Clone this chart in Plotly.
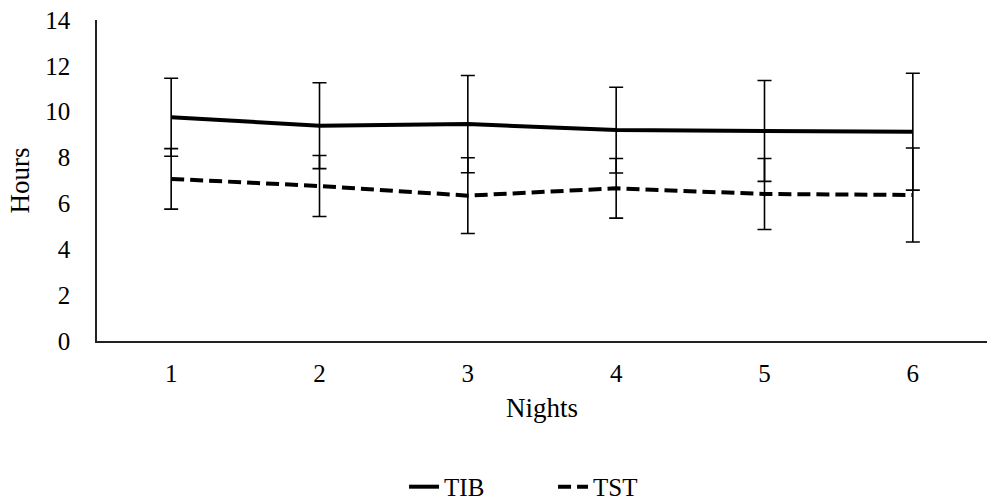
import plotly.graph_objects as go

nights = ["1", "2", "3", "4", "5", "6"]
tib = [9.76, 9.39, 9.46, 9.20, 9.16, 9.13]
tib_err = [1.70, 1.87, 2.12, 1.87, 2.20, 2.55]
tst = [7.07, 6.76, 6.34, 6.66, 6.41, 6.37]
tst_err = [1.32, 1.33, 1.65, 1.30, 1.55, 2.05]

font_family = "Liberation Serif"

fig = go.Figure()
fig.add_trace(go.Scatter(
    x=nights, y=tib, mode="lines", name="TIB",
    line=dict(color="black", width=4),
    error_y=dict(type="data", array=tib_err, visible=True,
                 color="black", thickness=1.6, width=7),
))
fig.add_trace(go.Scatter(
    x=nights, y=tst, mode="lines", name="TST",
    line=dict(color="black", width=4, dash="13px,6px"),
    error_y=dict(type="data", array=tst_err, visible=True,
                 color="black", thickness=1.6, width=7),
))

fig.update_layout(
    width=987, height=502,
    margin=dict(l=97, r=0, t=20, b=161, autoexpand=False),
    plot_bgcolor="white", paper_bgcolor="white",
    font=dict(family=font_family, size=25, color="black"),
    showlegend=True,
    legend=dict(orientation="h", x=0.345, xanchor="left",
                yref="container", y=0.03, yanchor="middle",
                font=dict(family=font_family, size=25),
                entrywidth=104, entrywidthmode="pixels"),
    xaxis=dict(
        type="category",
        range=[-0.5, 5.5],
        showline=True, linecolor="#222", linewidth=2,
        ticks="", ticklabelstandoff=9,
        showgrid=False, zeroline=False, automargin=False,
        title=dict(text="Nights", font=dict(size=27), standoff=12),
    ),
    yaxis=dict(
        range=[0, 14], dtick=2,
        showline=True, linecolor="#222", linewidth=1.5,
        ticks="", ticklabelstandoff=20,
        showgrid=False, zeroline=False, automargin=False,
        title=dict(text="Hours", font=dict(size=27), standoff=8),
    ),
)

fig.write_html(
    "out.html",
    config={"displayModeBar": False},
    post_script="document.body.style.margin='0';document.body.style.overflow='hidden';",
)
